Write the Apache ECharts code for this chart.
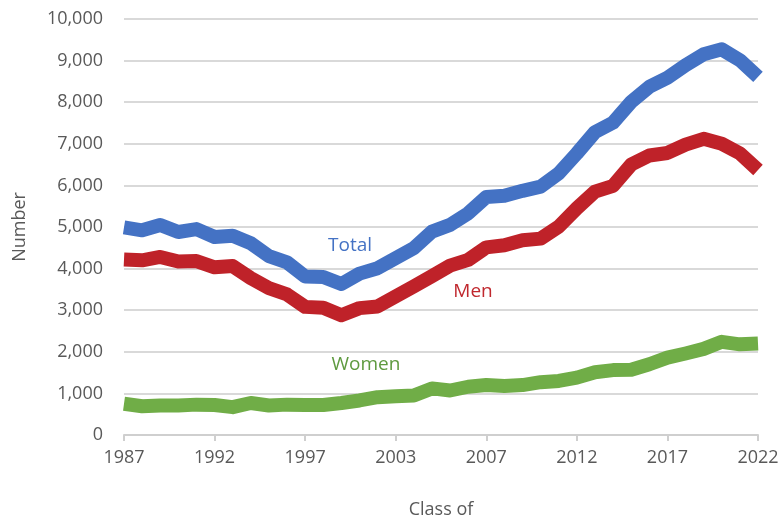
<!DOCTYPE html>
<html>
<head>
<meta charset="utf-8">
<script src="https://cdn.jsdelivr.net/npm/echarts@6/dist/echarts.min.js"></script>
<style>
  html, body { margin: 0; padding: 0; background: #fff; }
  #chart { width: 783px; height: 523px; }
</style>
</head>
<body>
<div id="chart"></div>
<script>
// class years 1987..2022
const years = []
for (let y = 1987; y <= 2022; y++) years.push(String(y))

// labels shown under every 5th tick (as printed on the original)
const xTickLabels = ['1987', '1992', '1997', '2003', '2007', '2012', '2017', '2022']

const total = [4990, 4920, 5050, 4880, 4950, 4760, 4790, 4610, 4300, 4150,
  3810, 3800, 3630, 3880, 4010, 4250, 4490, 4890, 5050, 5330,
  5720, 5750, 5870, 5970, 6290, 6770, 7280, 7510, 8010, 8370,
  8590, 8890, 9150, 9270, 9010, 8610]

const men = [4220, 4200, 4280, 4170, 4180, 4030, 4060, 3770, 3530, 3380,
  3080, 3060, 2880, 3050, 3090, 3330, 3570, 3820, 4070, 4210,
  4510, 4560, 4680, 4720, 5010, 5450, 5850, 5990, 6500, 6720,
  6780, 6980, 7120, 7000, 6770, 6370]

const women = [750, 690, 710, 710, 730, 720, 670, 770, 710, 730,
  720, 720, 770, 830, 910, 930, 950, 1120, 1070, 1160,
  1200, 1180, 1200, 1270, 1300, 1380, 1510, 1560, 1570, 1700,
  1860, 1960, 2070, 2240, 2180, 2200]

const FONT = '"Open Sans", "Noto Sans", sans-serif'
const TEXT = '#595959'

const chart = echarts.init(document.getElementById('chart'))

function line(name, data, color) {
  return {
    name,
    type: 'line',
    data,
    showSymbol: false,
    silent: true,
    lineStyle: { color, width: 14, join: 'round', cap: 'butt' },
  }
}

chart.setOption({
  animation: false,
  backgroundColor: '#fff',
  textStyle: { fontFamily: FONT },
  grid: { left: 124, right: 25, top: 19, bottom: 88, outerBoundsMode: 'none', containLabel: false },
  xAxis: {
    type: 'category',
    data: years,
    boundaryGap: false,
    name: 'Class of',
    nameLocation: 'middle',
    nameGap: 66,
    nameTextStyle: { color: TEXT, fontSize: 18, fontFamily: FONT },
    axisLine: { lineStyle: { color: '#cfcfcf', width: 2 } },
    axisTick: { interval: 4, length: 6, lineStyle: { color: '#cfcfcf', width: 2 } },
    axisLabel: {
      interval: 4,
      margin: 14,
      color: TEXT,
      fontSize: 18,
      fontFamily: FONT,
      formatter: (v, i) => xTickLabels[Math.round(i / 5)],
    },
    splitLine: { show: false },
  },
  yAxis: {
    type: 'value',
    min: 0,
    max: 10000,
    interval: 1000,
    name: 'Number',
    nameLocation: 'middle',
    nameGap: 95,
    nameTextStyle: { color: TEXT, fontSize: 18, fontFamily: FONT },
    axisLine: { show: false },
    axisTick: { show: false },
    axisLabel: {
      margin: 21,
      color: TEXT,
      fontSize: 18,
      fontFamily: FONT,
      formatter: (v) => v.toLocaleString('en-US'),
    },
    splitLine: { lineStyle: { color: '#d9d9d9', width: 2 } },
  },
  series: [
    line('Total', total, '#4472C4'),
    line('Men', men, '#BF2229'),
    line('Women', women, '#70AD47'),
  ],
  graphic: [
    { type: 'text', x: 350, y: 246, style: { text: 'Total', fill: '#4472C4', font: '19px ' + FONT, align: 'center', verticalAlign: 'middle' } },
    { type: 'text', x: 473, y: 292, style: { text: 'Men', fill: '#C0282E', font: '19px ' + FONT, align: 'center', verticalAlign: 'middle' } },
    { type: 'text', x: 366, y: 365, style: { text: 'Women', fill: '#5E9A3F', font: '19px ' + FONT, align: 'center', verticalAlign: 'middle' } },
  ],
})
</script>
</body>
</html>
